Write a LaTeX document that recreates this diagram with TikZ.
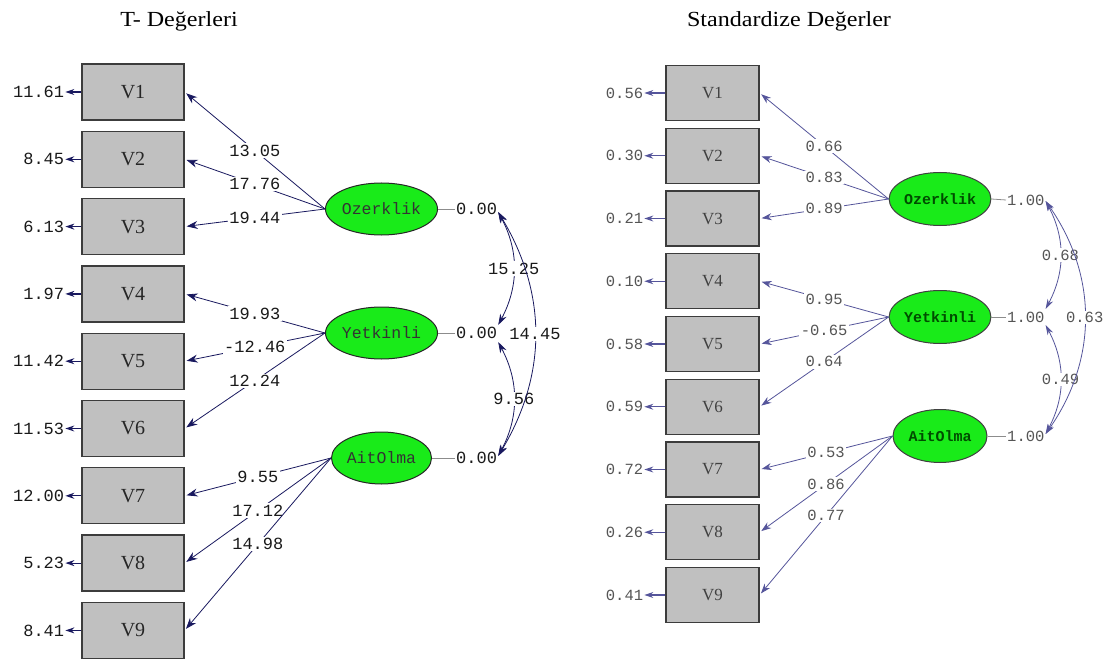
\documentclass[tikz,border=0pt]{standalone}
\usepackage{fontspec}
\setmainfont{Liberation Serif}
\newfontfamily\monofont{Liberation Mono}
\newfontfamily\titlefont[FakeStretch=1.12]{Liberation Serif}
\usetikzlibrary{arrows.meta,shapes.geometric}
\definecolor{boxfill}{RGB}{192,192,192}
\definecolor{boxline}{RGB}{60,60,60}
\definecolor{latfill}{RGB}{25,235,25}
\definecolor{navyL}{RGB}{25,25,95}
\definecolor{navyR}{RGB}{85,85,155}
\definecolor{numR}{RGB}{85,85,85}
\tikzset{
  obsL/.style={draw=boxline, line width=1.3bp, fill=boxfill, minimum width=102bp, minimum height=56bp, inner sep=0pt, text=black!85, font=\fontsize{20bp}{20bp}\selectfont},
  obsR/.style={draw=boxline, line width=1.3bp, fill=boxfill, minimum width=93bp, minimum height=55bp, inner sep=0pt, text=black!75, font=\fontsize{17bp}{17bp}\selectfont},
  latL/.style={ellipse, draw=black!85, line width=1bp, fill=latfill, minimum width=100bp, minimum height=52bp, inner sep=0pt, text=black!80, font=\monofont\fontsize{16.5bp}{16.5bp}\selectfont},
  latR/.style={ellipse, draw=black!75, line width=1bp, fill=latfill, minimum width=94bp, minimum height=53bp, inner sep=0pt, text=green!30!black, font=\monofont\bfseries\fontsize{15bp}{15bp}\selectfont},
  numL/.style={inner sep=1bp, text=black!90, font=\monofont\fontsize{17bp}{17bp}\selectfont},
  numR/.style={inner sep=1bp, text=numR, font=\monofont\fontsize{15.5bp}{15.5bp}\selectfont},
  lblL/.style={numL, fill=white, inner sep=1.5bp},
  lblR/.style={numR, fill=white, inner sep=1.5bp},
  loadL/.style={draw=navyL, line width=0.8bp, shorten >=2bp, -{Stealth[length=11bp,width=8bp]}},
  loadR/.style={draw=navyR, line width=0.8bp, shorten >=2bp, -{Stealth[length=10bp,width=7bp]}},
  errL/.style={draw=navyL, line width=1.2bp, -{Stealth[length=9bp,width=6bp]}},
  errR/.style={draw=navyR, line width=1.2bp, -{Stealth[length=9bp,width=6bp]}},
  covL/.style={draw=navyL, line width=0.8bp, {Stealth[length=11bp,width=7bp]}-{Stealth[length=11bp,width=7bp]}},
  covR/.style={draw=navyR, line width=0.8bp, {Stealth[length=10bp,width=6bp]}-{Stealth[length=10bp,width=6bp]}},
  varline/.style={draw=black!45, line width=0.8bp},
  ttl/.style={inner sep=0pt, text=black, font=\titlefont\fontsize{21.5bp}{22bp}\selectfont}
}
\begin{document}
\begin{tikzpicture}[x=1bp,y=-1bp]
\useasboundingbox[fill=white] (0,0) rectangle (1107,661);
% titles
\node[ttl, anchor=base] (t1) at (179,27) {T- Değerleri};
\node[ttl, anchor=base] (t2) at (789,27) {Standardize Değerler};

% ---------- left diagram ----------
\foreach \i/\y/\e in {1/92/11.61, 2/159.3/8.45, 3/226.6/6.13, 4/293.9/1.97, 5/361.2/11.42, 6/428.5/11.53, 7/495.8/12.00, 8/563.1/5.23, 9/630.4/8.41}{
  \node[obsL] (L\i) at (133,\y) {V\i};
  \node[numL, anchor=east] (eL\i) at ([xshift=-16bp]L\i.west) {\e};
  \draw[errL] (L\i.west) -- (eL\i.east);
}
\node[latL] (oL) at (381.5,209) {Ozerklik};
\node[latL] (yL) at (381.5,333) {Yetkinli};
\node[latL] (aL) at (381.5,458) {AitOlma};
\node[numL, anchor=west] (voL) at (455,209) {0.00};
\node[numL, anchor=west] (vyL) at (455,333) {0.00};
\node[numL, anchor=west] (vaL) at (455,458) {0.00};
\draw[varline] (oL.east) -- (voL.west);
\draw[varline] (yL.east) -- (vyL.west);
\draw[varline] (aL.east) -- (vaL.west);

\draw[loadL] (oL.west) -- node[lblL] {13.05} (L1.east);
\draw[loadL] (oL.west) -- node[lblL] {17.76} (L2.east);
\draw[loadL] (oL.west) -- node[lblL] {19.44} (L3.east);
\draw[loadL] (yL.west) -- node[lblL] {19.93} (L4.east);
\draw[loadL] (yL.west) -- node[lblL] {-12.46} (L5.east);
\draw[loadL] (yL.west) -- node[lblL] {12.24} (L6.east);
\draw[loadL] (aL.west) -- node[lblL] {9.55} (L7.east);
\draw[loadL] (aL.west) -- node[lblL] {17.12} (L8.east);
\draw[loadL] (aL.west) -- node[lblL] {14.98} (L9.east);

\coordinate (cLo) at ([yshift=-3bp]voL.east);
\coordinate (cLy1) at ([yshift=8bp]vyL.east);
\coordinate (cLy2) at ([yshift=-9bp]vyL.east);
\coordinate (cLa) at ([yshift=2bp]vaL.east);
\draw[covL] (cLo) to[bend left=28] node[lblL] {15.25} (cLy1);
\draw[covL] (cLy2) to[bend left=28] node[lblL] {9.56} (cLa);
\draw[covL] (cLo) to[bend left=31] node[lblL] {14.45} (cLa);

% ---------- right diagram ----------
\foreach \i/\y/\e in {1/93/0.56, 2/155.75/0.30, 3/218.5/0.21, 4/281.25/0.10, 5/344/0.58, 6/406.75/0.59, 7/469.5/0.72, 8/532.25/0.26, 9/595/0.41}{
  \node[obsR] (R\i) at (712.5,\y) {V\i};
  \node[numR, anchor=east] (eR\i) at ([xshift=-21bp]R\i.west) {\e};
  \draw[errR] (R\i.west) -- (eR\i.east);
}
\node[latR] (oR) at (940,199) {Ozerklik};
\node[latR] (yR) at (940,317) {Yetkinli};
\node[latR] (aR) at (940,436) {AitOlma};
\node[numR, anchor=west] (voR) at (1006,200) {1.00};
\node[numR, anchor=west] (vyR) at (1006,317) {1.00};
\node[numR, anchor=west] (vaR) at (1006,436) {1.00};
\draw[varline] (oR.east) -- (voR.west);
\draw[varline] (yR.east) -- (vyR.west);
\draw[varline] (aR.east) -- (vaR.west);

\draw[loadR] (oR.west) -- node[lblR] {0.66} (R1.east);
\draw[loadR] (oR.west) -- node[lblR] {0.83} (R2.east);
\draw[loadR] (oR.west) -- node[lblR] {0.89} (R3.east);
\draw[loadR] (yR.west) -- node[lblR] {0.95} (R4.east);
\draw[loadR] (yR.west) -- node[lblR] {-0.65} (R5.east);
\draw[loadR] (yR.west) -- node[lblR] {0.64} (R6.east);
\draw[loadR] (aR.west) -- node[lblR] {0.53} (R7.east);
\draw[loadR] (aR.west) -- node[lblR] {0.86} (R8.east);
\draw[loadR] (aR.west) -- node[lblR] {0.77} (R9.east);

\coordinate (cRo) at ([yshift=-1bp]voR.east);
\coordinate (cRy1) at ([yshift=8bp]vyR.east);
\coordinate (cRy2) at ([yshift=-8bp]vyR.east);
\coordinate (cRa) at ([yshift=2bp]vaR.east);
\draw[covR] (cRo) to[bend left=28] node[lblR] {0.68} (cRy1);
\draw[covR] (cRy2) to[bend left=28] node[lblR] {0.49} (cRa);
\draw[covR] (cRo) to[bend left=35] node[lblR] {0.63} (cRa);
\end{tikzpicture}
\end{document}
